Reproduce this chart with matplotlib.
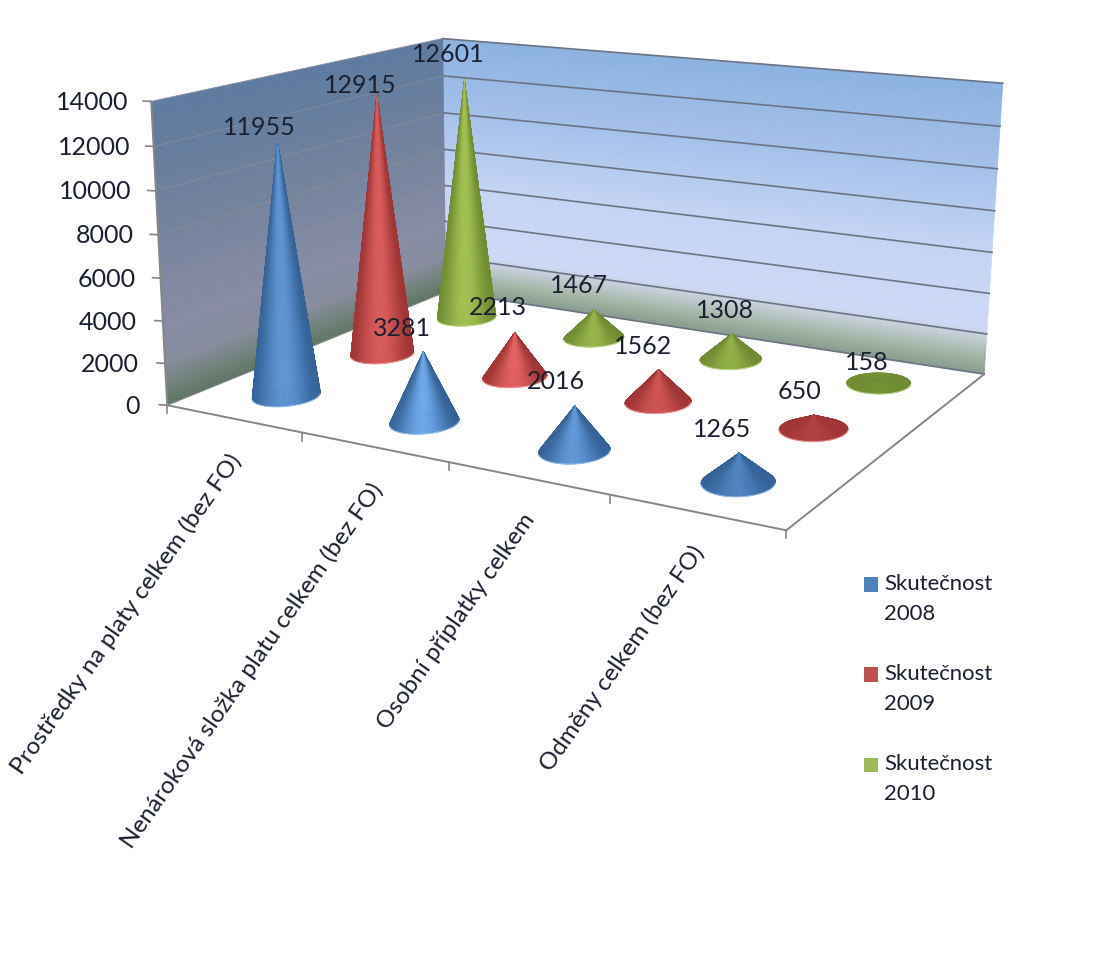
import numpy as np
import matplotlib
matplotlib.use("Agg")
import matplotlib.pyplot as plt
from matplotlib.collections import PolyCollection
from matplotlib.colors import to_rgb
from matplotlib.patches import Rectangle

plt.rcParams['font.family'] = ['Lato', 'DejaVu Sans']

# ---- data ----
categories = ["Prostředky na platy celkem (bez FO)",
              "Nenároková složka platu celkem (bez FO)",
              "Osobní příplatky celkem",
              "Odměny celkem (bez FO)"]
series_names = ["Skutečnost\n2008", "Skutečnost\n2009", "Skutečnost\n2010"]
values_2008 = [11955, 3281, 2016, 1265]
values_2009 = [12915, 2213, 1562, 650]
values_2010 = [12601, 1467, 1308, 158]
z_ticks = [0, 2000, 4000, 6000, 8000, 10000, 12000, 14000]

# ---- layout / style ----
W, H = 1112, 977
ZMAX = 14000
NC, NS = 4, 3
# camera calibration: chart-box reference points -> picture pixels
CALIB = [((0, 0, 0), (168, 403)), ((0, 3, 0), (445, 293)), ((4, 3, 0), (985, 373)),
         ((4, 0, 0), (787, 530)), ((0, 0, 1), (150, 98)), ((0, 3, 1), (443, 37)),
         ((4, 3, 1), (1002, 83)), ((1, 0, 0), (302, 433)), ((2, 0, 0), (449, 462)),
         ((3, 0, 0), (609, 496)),
         ((0.5, 0.5, 0.854), (278, 145)), ((0.5, 1.5, 0.9225), (378, 98))]
A = []
for (u, v, z), (x, y) in CALIB:
    A.append([u, v, z, 1, 0, 0, 0, 0, -x*u, -x*v, -x*z, -x])
    A.append([0, 0, 0, 0, u, v, z, 1, -y*u, -y*v, -y*z, -y])
P = np.linalg.svd(np.array(A, float))[2][-1].reshape(3, 4)


def proj(u, v, val=0.0):
    u, v, val = np.broadcast_arrays(np.asarray(u, float), np.asarray(v, float), np.asarray(val, float))
    q = P @ np.stack([u, v, val / ZMAX, np.ones_like(u)])
    return np.stack([q[0] / q[2], q[1] / q[2]], axis=-1)


def ramp(stops, t):
    ts = [s[0] for s in stops]
    cols = np.array([to_rgb(s[1]) for s in stops])
    return [np.interp(t, ts, cols[:, i]) for i in range(3)]


BACK_STOPS = [(0, '#84998a'), (900, '#a4b5a6'), (1900, '#c6d0dc'), (2300, '#cdd8f6'),
              (6000, '#c4d4f4'), (10000, '#a4c0ea'), (14000, '#8ab1e1')]
SIDE_STOPS = [(0, '#5c7260'), (900, '#6e8078'), (2000, '#858a9c'), (4000, '#868aa4'),
              (8000, '#74829c'), (11000, '#667c9c'), (14000, '#5b7a9f')]

fig = plt.figure(figsize=(W / 100, H / 100), dpi=100, facecolor='white')
ax = fig.add_axes([0, 0, 1, 1])
ax.set_xlim(0, W)
ax.set_ylim(H, 0)
ax.axis('off')

TEXT = '#1b2030'
FS = 18

# walls as fine gradient bands
zs = np.linspace(0, ZMAX, 141)
back, side, cb, cs = [], [], [], []
for z0, z1 in zip(zs[:-1], zs[1:]):
    back.append(np.vstack([proj(0, NS, z0), proj(NC, NS, z0), proj(NC, NS, z1), proj(0, NS, z1)]))
    side.append(np.vstack([proj(0, 0, z0), proj(0, NS, z0), proj(0, NS, z1), proj(0, 0, z1)]))
    cb.append(ramp(BACK_STOPS, (z0 + z1) / 2))
    cs.append(ramp(SIDE_STOPS, (z0 + z1) / 2))
ax.add_collection(PolyCollection(back, facecolors=cb, edgecolors=cb, linewidths=0.4, zorder=1))
ax.add_collection(PolyCollection(side, facecolors=cs, edgecolors=cs, linewidths=0.4, zorder=1))

# gridlines
for z in z_ticks:
    a, b, c = proj(0, 0, z), proj(0, NS, z), proj(NC, NS, z)
    ax.plot([a[0], b[0]], [a[1], b[1]], color='#8d9099', lw=1.0, alpha=0.55, zorder=2)
    ax.plot([b[0], c[0]], [b[1], c[1]], color='#6c7484', lw=1.2, zorder=2)
    ax.plot([a[0] - 8, a[0]], [a[1] - 0.5, a[1]], color='#868686', lw=1.2, zorder=2)
    ax.text(a[0] - 27 + 4 * z / ZMAX, a[1] + 1, str(z), ha='right', va='center',
            fontsize=FS, color=TEXT, zorder=6)

# axes lines
for (p, q) in [((0, 0, 0), (NC, 0, 0)), ((NC, 0, 0), (NC, NS, 0)), ((0, 0, 0), (0, 0, ZMAX))]:
    a, b = proj(*p), proj(*q)
    ax.plot([a[0], b[0]], [a[1], b[1]], color='#868686', lw=1.4, zorder=2)
for i in range(NC + 1):
    a = proj(i, 0, 0)
    ax.plot([a[0], a[0]], [a[1], a[1] + 8], color='#868686', lw=1.2, zorder=2)

# cones
RU, RV = 0.19, 0.225
LIGHT = ['#6fa9ec', '#f06c6a', '#b6d660']
DARK = ['#3a6ca6', '#ad3a3a', '#7a9836']
RIM = ['#a8cdf2', '#f5b0ae', '#d3e8a0']
all_values = [values_2008, values_2009, values_2010]
TH = np.linspace(0, 2 * np.pi, 181)
apex = {}
for s in range(NS - 1, -1, -1):
    for c in range(NC):
        val = all_values[s][c]
        uc, vc = c + 0.5, s + 0.5
        rim = proj(uc + RU * np.cos(TH), vc + RV * np.sin(TH))
        top = proj(uc, vc, val)
        apex[(s, c)] = top
        cx, hw = rim[:, 0].mean(), (rim[:, 0].max() - rim[:, 0].min()) / 2
        steep = min(1.0, val / 2600) * (0.72 if val > 5000 else 1.0)
        l, d = np.array(to_rgb(LIGHT[s])), np.array(to_rgb(DARK[s]))
        tris, cols = [], []
        for j in np.argsort(rim[:-1, 1]):
            a, b = rim[j], rim[j + 1]
            t = ((a[0] + b[0]) / 2 - cx) / hw
            shade = np.cos(np.pi / 2 * np.clip(t + 0.05, -1, 1)) ** 1.5 * steep
            tris.append(np.vstack([top, a, b]))
            cols.append(d * 0.92 + (l - d * 0.92) * shade)
        ax.add_collection(PolyCollection([rim], facecolors=[d], edgecolors='none', zorder=3))
        ax.add_collection(PolyCollection(tris, facecolors=cols, edgecolors=cols, linewidths=0.35, zorder=3))
        # pale rim along the front of the base
        left, right = rim[rim[:, 0].argmin()], rim[rim[:, 0].argmax()]
        chord = left[1] + (right[1] - left[1]) * (rim[:, 0] - left[0]) / (right[0] - left[0])
        order = np.argsort(rim[:, 0])
        front = order[rim[order, 1] > chord[order] + 1]
        ax.plot(rim[front, 0], rim[front, 1], color=RIM[s], lw=0.8, alpha=0.7, zorder=3)

# data labels (placed relative to cone tips)
LABEL_OFFSET = {(0, 0): (-18, -14), (1, 0): (-16, -10), (2, 0): (-16, -26),
                (0, 1): (-21, -23), (1, 1): (-17, -25), (2, 1): (-15, -25),
                (0, 2): (-19, -24), (1, 2): (-16, -23), (2, 2): (-7, -24),
                (0, 3): (-17, -23), (1, 3): (-15, -24), (2, 3): (-12, -17)}
for key, (dx, dy) in LABEL_OFFSET.items():
    s, c = key
    ax.text(apex[key][0] + dx, apex[key][1] + dy, str(all_values[s][c]), ha='center', va='center',
            fontsize=FS, color=TEXT, zorder=7)

# category labels
CAT_POS = [(126, 614), (252, 666), (456, 621), (622, 658)]
for name, (x, y) in zip(categories, CAT_POS):
    ax.text(x, y, name, rotation=55, ha='center', va='center', fontsize=17.5, color=TEXT, zorder=6)

# legend
LEG_Y = [584.5, 674.5, 765]
LEG_COL = ['#4f81bd', '#c0504d', '#9bbb59']
for name, y, col in zip(series_names, LEG_Y, LEG_COL):
    ax.add_patch(Rectangle((864, y - 7.5), 13.5, 14.5, facecolor=col, edgecolor='none', zorder=5))
    a, b = name.split('\n')
    ax.text(884, y - 1, a, ha='left', va='center', fontsize=15.9, color=TEXT, zorder=6)
    ax.text(884, y + 29, b, ha='left', va='center', fontsize=15.9, color=TEXT, zorder=6)

fig.savefig('out.png', dpi=100, facecolor='white')
